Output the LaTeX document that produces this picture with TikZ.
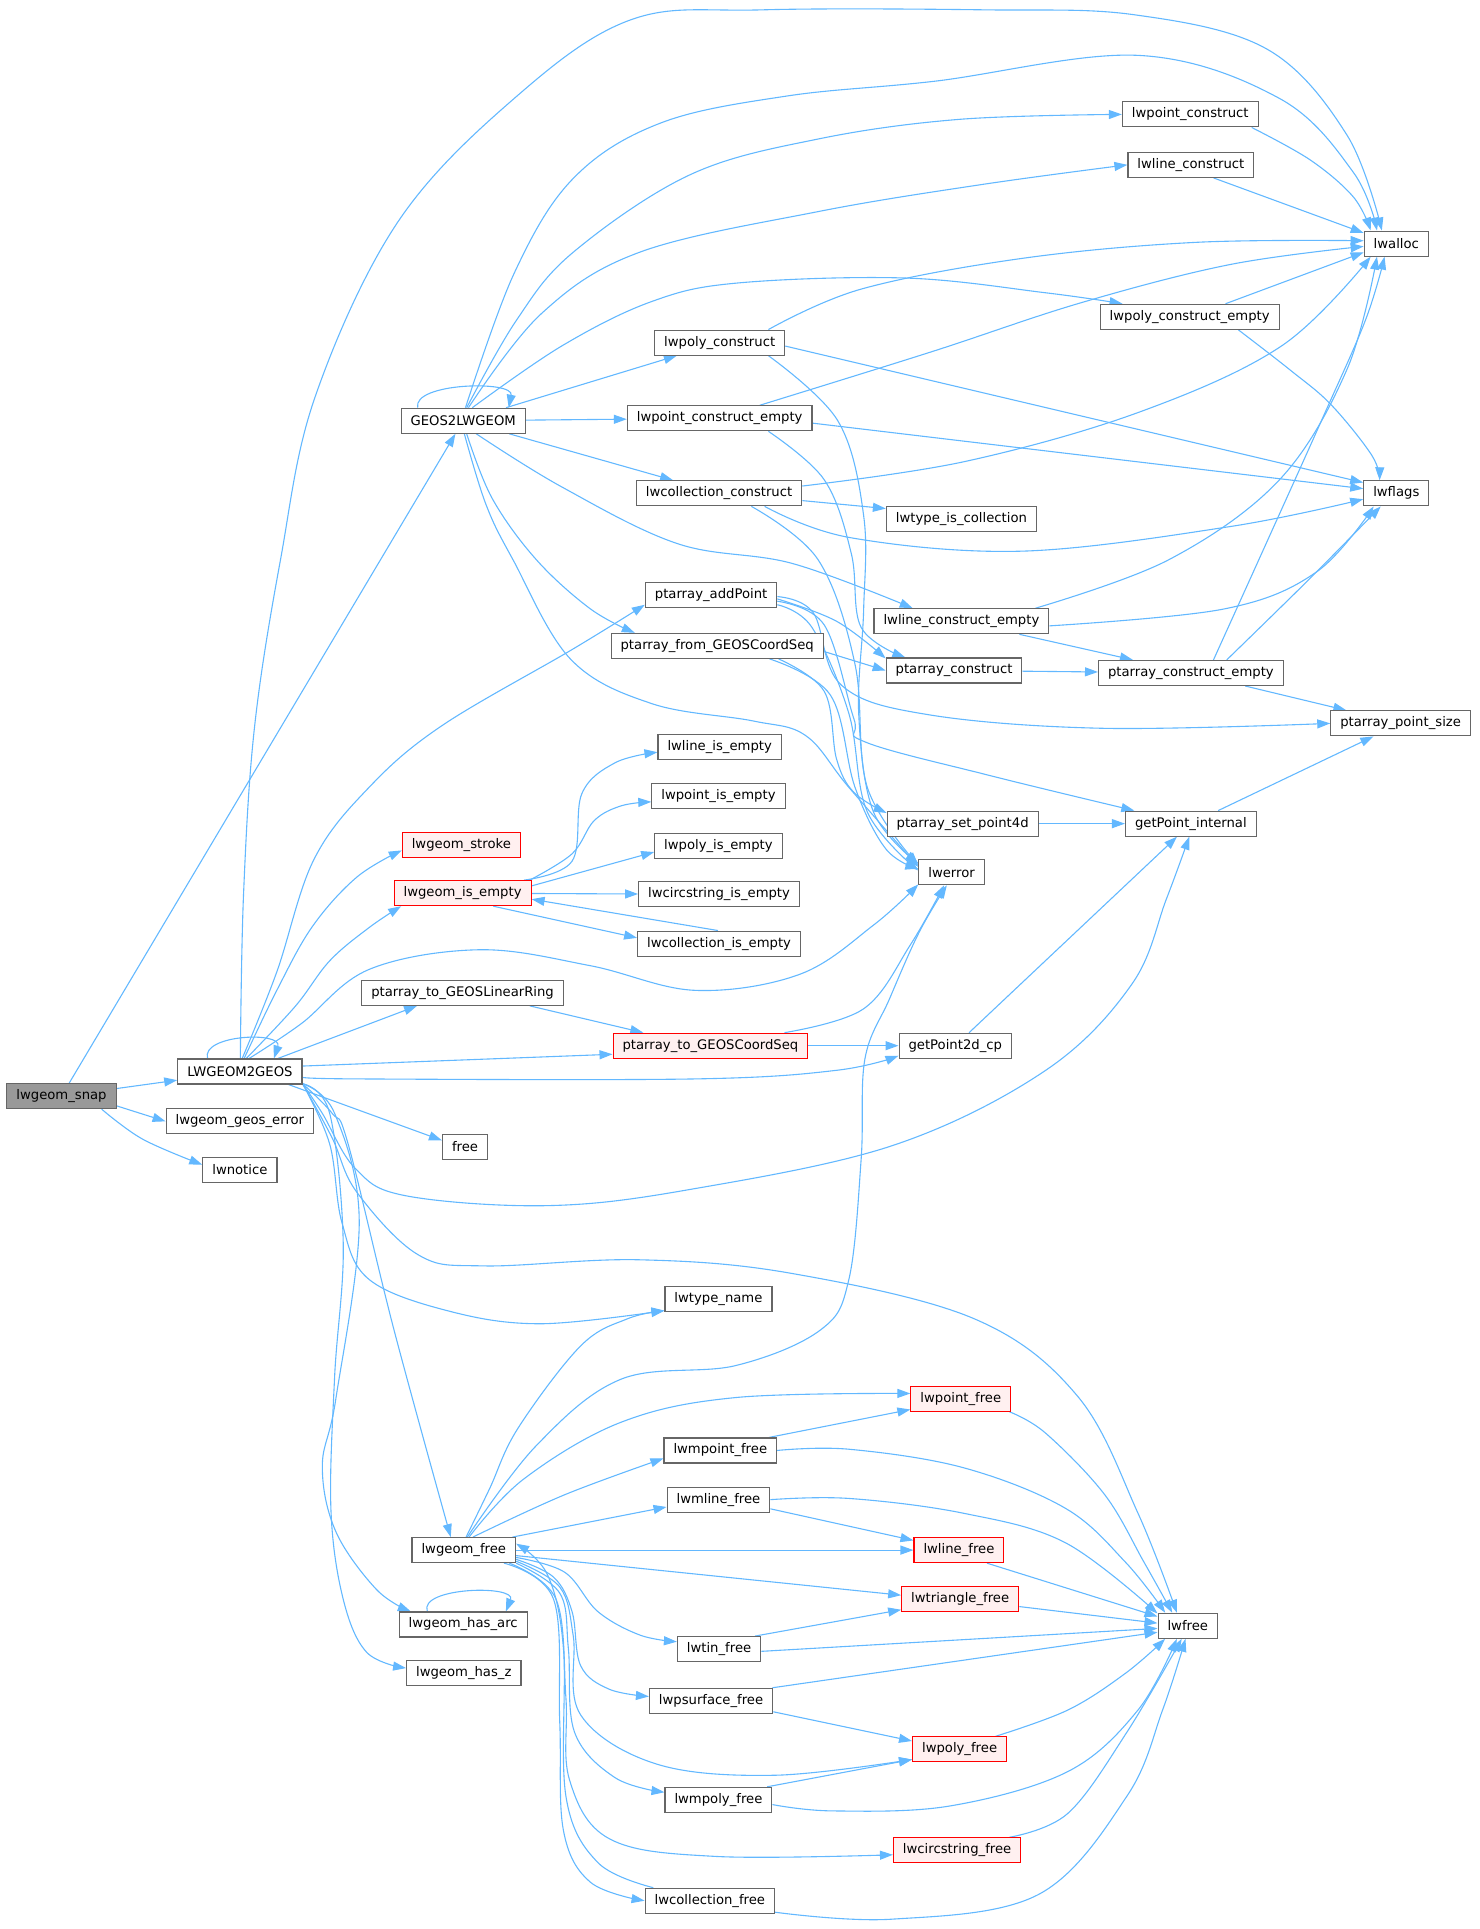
\documentclass[tikz,border=0pt]{standalone}
\usepackage{fontspec}
\newfontfamily\graphfont{DejaVu Sans}
\usetikzlibrary{arrows.meta}
\definecolor{EdgeBlue}{HTML}{63B8FF}
\definecolor{NodeGray}{HTML}{666666}
\definecolor{RootGray}{HTML}{999999}
\definecolor{HotRed}{HTML}{FF0000}
\definecolor{HotFill}{HTML}{FFF0F0}
\pgfdeclarelayer{edges}
\pgfsetlayers{edges,main}

\begin{document}
\begin{tikzpicture}[x=1.2303pt,y=-1.2303pt,
    fn/.style={draw=NodeGray,fill=white,line width=1.1pt,minimum height=25pt,
      inner xsep=9.5pt,inner ysep=0pt,font=\graphfont\fontsize{13.2}{15}\selectfont},
    fnroot/.style={fn,fill=RootGray},
    fnhot/.style={fn,draw=HotRed,fill=HotFill},
    call/.style={draw=EdgeBlue,line width=1.1pt,-{Triangle[length=13pt,width=9pt]}}]
  \useasboundingbox (0,0) rectangle (1203,1568);

  % callers on the left
  \node[fnroot] (snap) at (50,891) {lwgeom\_snap};
  \node[fn] (lw2geos) at (195,871) {LWGEOM2GEOS};
  \node[fn] (geoserr) at (195,911.5) {lwgeom\_geos\_error};
  \node[fn] (notice) at (195,951) {lwnotice};
  \node[fn] (geos2lw) at (376.5,342) {GEOS2LWGEOM};
  \node[fnhot] (stroke) at (375,687) {lwgeom\_stroke};
  \node[fnhot] (isempty) at (376,726) {lwgeom\_is\_empty};
  \node[fn] (linring) at (376,807) {ptarray\_to\_GEOSLinearRing};
  \node[fn] (free) at (378,932) {free};
  \node[fn] (gfree) at (377,1260) {lwgeom\_free};
  \node[fn] (hasarc) at (376.5,1320.5) {lwgeom\_has\_arc};
  \node[fn] (hasz) at (377,1360) {lwgeom\_has\_z};

  % constructors
  \node[fn] (ptcons) at (967.5,93) {lwpoint\_construct};
  \node[fn] (lncons) at (968,134) {lwline\_construct};
  \node[fn] (alloc) at (1135,198) {lwalloc};
  \node[fn] (pgcons) at (585,278.5) {lwpoly\_construct};
  \node[fn] (pgempty) at (967,257.5) {lwpoly\_construct\_empty};
  \node[fn] (ptempty) at (585,340) {lwpoint\_construct\_empty};
  \node[fn] (flags) at (1135,401) {lwflags};
  \node[fn] (colcons) at (584.5,401) {lwcollection\_construct};
  \node[fn] (iscoll) at (781.5,422) {lwtype\_is\_collection};
  \node[fn] (addpt) at (578,484) {ptarray\_addPoint};
  \node[fn] (lnempty) at (781.5,505) {lwline\_construct\_empty};
  \node[fn] (fromseq) at (583,525) {ptarray\_from\_GEOSCoordSeq};
  \node[fn] (pacons) at (775.5,545) {ptarray\_construct};
  \node[fn] (paempty) at (968,547) {ptarray\_construct\_empty};
  \node[fn] (ptsize) at (1138.5,588) {ptarray\_point\_size};

  % emptiness tests and point access
  \node[fn] (lnis) at (585,607) {lwline\_is\_empty};
  \node[fn] (ptis) at (584,647) {lwpoint\_is\_empty};
  \node[fn] (pgis) at (584,688) {lwpoly\_is\_empty};
  \node[fn] (csis) at (584.5,727) {lwcircstring\_is\_empty};
  \node[fn] (colis) at (584.5,767) {lwcollection\_is\_empty};
  \node[fn] (setpt) at (782.5,669.5) {ptarray\_set\_point4d};
  \node[fn] (getint) at (968,669.5) {getPoint\_internal};
  \node[fn] (lwerror) at (773.5,709) {lwerror};
  \node[fnhot] (toseq) at (577.5,850) {ptarray\_to\_GEOSCoordSeq};
  \node[fn] (get2d) at (776.5,850) {getPoint2d\_cp};

  % destructors
  \node[fn] (typename) at (584,1056) {lwtype\_name};
  \node[fnhot] (ptfree) at (781,1137) {lwpoint\_free};
  \node[fn] (mptfree) at (585.5,1179) {lwmpoint\_free};
  \node[fn] (mlnfree) at (584,1219) {lwmline\_free};
  \node[fnhot] (lnfree) at (779.5,1260) {lwline\_free};
  \node[fnhot] (trifree) at (780.5,1300) {lwtriangle\_free};
  \node[fn] (lwfree) at (965.5,1321.5) {lwfree};
  \node[fn] (tinfree) at (584.5,1340.5) {lwtin\_free};
  \node[fn] (psfree) at (578,1382.5) {lwpsurface\_free};
  \node[fnhot] (pgfree) at (780,1422) {lwpoly\_free};
  \node[fn] (mpgfree) at (584,1463) {lwmpoly\_free};
  \node[fnhot] (csfree) at (778,1504) {lwcircstring\_free};
  \node[fn] (colfree) at (577,1545) {lwcollection\_free};

  \begin{pgfonlayer}{edges}
  % lwgeom_snap
  \draw[call] (snap) -- (geos2lw);
  \draw[call] (snap) -- (lw2geos);
  \draw[call] (snap.-10) -- (geoserr.west);
  \draw[call] plot[smooth,tension=.6] coordinates {(snap.-18) (116,926) (notice.172)};

  % LWGEOM2GEOS
  \draw[call] (lw2geos.158) .. controls (163,841) and (230,838) .. (lw2geos.21);
  \draw[call] plot[smooth,tension=.6] coordinates {(lw2geos.88) (198,726) (207,590) (228,455) (256,323) (323,181) (418,80) (513,16) (620,8) (800,8) (922,12) (1030,40) (1095,110) (alloc.138)};
  \draw[call] plot[smooth,tension=.6] coordinates {(lw2geos.80) (225,790) (255,699) (300,640) (359,590) (465,528) (addpt.-172)};
  \draw[call] plot[smooth,tension=.6] coordinates {(lw2geos.72) (225,805) (254,753) (290,713) (stroke.-175)};
  \draw[call] plot[smooth,tension=.6] coordinates {(lw2geos.64) (240,818) (268,781) (300,754) (isempty.-168)};
  \draw[call] plot[smooth,tension=.6] coordinates {(lw2geos.55) (245,832) (300,788) (390,772) (480,785) (565,805) (650,792) (710,752) (lwerror.-160)};
  \draw[call] (lw2geos.19) -- (linring.-164);
  \draw[call] (lw2geos.5) -- (toseq.-175);
  \draw[call] plot[smooth,tension=.6] coordinates {(lw2geos.-5) (292,877) (565,877) (680,870) (get2d.-170)};
  \draw[call] (lw2geos.-15) -- (free.165);
  \draw[call] plot[smooth,tension=.6] coordinates {(lw2geos.-11) (262,905) (289,950) (330,972) (445,980) (560,967) (726,931) (850,870) (920,800) (948,731) (getint.-97)};
  \draw[call] plot[smooth,tension=.6] coordinates {(lw2geos.-11) (270,925) (290,969) (340,1020) (394,1029) (519,1024) (643,1035) (792,1072) (876,1135) (925,1230) (lwfree.130)};
  \draw[call] plot[smooth,tension=.6] coordinates {(lw2geos.-11) (268,930) (278,994) (300,1040) (366,1066) (440,1076) (typename.-168)};
  \draw[call] plot[smooth,tension=.6] coordinates {(lw2geos.-11) (270,905) (283,930) (320,1080) (gfree.135)};
  \draw[call] plot[smooth,tension=.6] coordinates {(lw2geos.-11) (272,905) (292,993) (273,1137) (262,1192) (273,1245) (306,1292) (hasarc.166)};
  \draw[call] plot[smooth,tension=.6] coordinates {(lw2geos.-11) (268,905) (279,1011) (272,1119) (269,1227) (279,1300) (298,1343) (hasz.175)};

  % GEOS2LWGEOM
  \draw[call] (geos2lw.164) .. controls (335,311) and (418,309) .. (geos2lw.16);
  \draw[call] plot[smooth,tension=.6] coordinates {(geos2lw.80) (418,222) (466,145) (537,100) (640,78) (760,66) (925,45) (1040,80) (1100,140) (alloc.146)};
  \draw[call] plot[smooth,tension=.6] coordinates {(geos2lw.75) (420,260) (466,205) (561,142) (665,113) (780,97) (ptcons.west)};
  \draw[call] plot[smooth,tension=.6] coordinates {(geos2lw.68) (440,255) (520,205) (665,172) (798,150) (lncons.west)};
  \draw[call] plot[smooth,tension=.6] coordinates {(geos2lw.55) (457,281) (530,245) (600,230) (736,226) (850,238) (pgempty.169)};
  \draw[call] (geos2lw) -- (pgcons);
  \draw[call] (geos2lw) -- (ptempty);
  \draw[call] (geos2lw) -- (colcons);
  \draw[call] plot[smooth,tension=.6] coordinates {(geos2lw.-45) (457,396) (551,442) (644,458) (lnempty.165)};
  \draw[call] plot[smooth,tension=.6] coordinates {(geos2lw.-75) (400,405) (436,455) (480,495) (fromseq.171)};
  \draw[call] plot[smooth,tension=.6] coordinates {(geos2lw.-85) (395,410) (417,455) (464,536) (530,572) (612,586) (655,598) (690,640) (lwerror.171)};

  % constructors
  \draw[call] plot[smooth,tension=.6] coordinates {(ptcons.-12) (1065,130) (1100,160) (alloc.153)};
  \draw[call] (lncons.-30) -- (alloc.162);
  \draw[call] plot[smooth,tension=.6] coordinates {(pgcons.15) (700,235) (831,210) (972,197) (alloc.175)};
  \draw[call] (pgcons.-3) -- (flags.162);
  \draw[call] plot[smooth,tension=.6] coordinates {(pgcons.-15) (681,342) (702,419) (702,496) (698,580) (710,660) (lwerror.165)};
  \draw[call] plot[smooth,tension=.6] coordinates {(ptempty.18) (757,286) (879,246) (1000,215) (alloc.-175)};
  \draw[call] (ptempty.-3) -- (flags.172);
  \draw[call] plot[smooth,tension=.6] coordinates {(ptempty.-15) (670,390) (692,450) (700,510) (pacons.165)};
  \draw[call] plot[smooth,tension=.6] coordinates {(colcons.5) (785,375) (926,335) (1042,281) (alloc.-153)};
  \draw[call] plot[smooth,tension=.6] coordinates {(colcons.-16) (691,437) (831,448) (1000,428) (flags.-170)};
  \draw[call] (colcons.-5) -- (iscoll.172);
  \draw[call] plot[smooth,tension=.6] coordinates {(colcons.-22) (665,455) (695,540) (705,640) (lwerror.168)};
  \draw[call] (pgempty.20) -- (alloc.-165);
  \draw[call] plot[smooth,tension=.6] coordinates {(pgempty.-15) (1049,301) (1082,329) (1115,370) (flags.142)};
  \draw[call] plot[smooth,tension=.6] coordinates {(lnempty.10) (950,455) (1040,390) (1095,300) (alloc.-146)};
  \draw[call] plot[smooth,tension=.6] coordinates {(lnempty.-3) (995,495) (1070,465) (flags.-150)};
  \draw[call] (lnempty) -- (paempty);
  \draw[call] plot[smooth,tension=.6] coordinates {(paempty.30) (1030,440) (1075,340) (1110,260) (alloc.-132)};
  \draw[call] plot[smooth,tension=.6] coordinates {(paempty.20) (1066,469) (flags.-140)};
  \draw[call] (paempty) -- (ptsize);
  \draw[call] (pacons) -- (paempty);

  % point arrays
  \draw[call] plot[smooth,tension=.6] coordinates {(addpt.-3) (680,505) (pacons.170)};
  \draw[call] plot[smooth,tension=.6] coordinates {(addpt.-1) (661,498) (684,557) (755,581) (897,592) (ptsize.west)};
  \draw[call] plot[smooth,tension=.6] coordinates {(addpt.-5) (670,508) (694,584) (703,603) (803,630) (getint.167)};
  \draw[call] plot[smooth,tension=.6] coordinates {(addpt.-8) (660,510) (690,580) (705,660) (lwerror.177)};
  \draw[call] (fromseq.-3) -- (pacons.west);
  \draw[call] plot[smooth,tension=.6] coordinates {(fromseq.-12) (670,562) (680,617) (694,644) (setpt.172)};
  \draw[call] plot[smooth,tension=.6] coordinates {(fromseq.-14) (675,565) (695,640) (720,690) (lwerror.174)};
  \draw[call] (setpt) -- (getint);
  \draw[call] (getint) -- (ptsize);
  \draw[call] (get2d) -- (getint);

  % lwgeom_is_empty
  \draw[call] plot[smooth,tension=.6] coordinates {(isempty.12) (465,700) (473,645) (500,620) (lnis.-175)};
  \draw[call] plot[smooth,tension=.6] coordinates {(isempty.11) (465,694) (483,667) (505,655) (ptis.-175)};
  \draw[call] (isempty.6) -- (pgis.-175);
  \draw[call] (isempty) -- (csis);
  \draw[call] (isempty.-23) -- (colis.176);
  \draw[call] (colis.95) -- (isempty.-5);

  % coordinate sequences
  \draw[call] (linring.-11) -- (toseq.169);
  \draw[call] plot[smooth,tension=.6] coordinates {(toseq.10) (702,820) (740,768) (lwerror.-120)};
  \draw[call] (toseq) -- (get2d);

  % lwgeom_free
  \draw[call] plot[smooth,tension=.6] coordinates {(gfree.80) (398,1210) (421,1161) (472,1094) (510,1072) (typename.-168)};
  \draw[call] plot[smooth,tension=.6] coordinates {(gfree.75) (436,1175) (505,1121) (598,1110) (667,1081) (690,1040) (700,942) (703,861) (723,812) (747,758) (lwerror.-110)};
  \draw[call] plot[smooth,tension=.6] coordinates {(gfree.68) (426,1202) (505,1156) (598,1136) (ptfree.174)};
  \draw[call] plot[smooth,tension=.6] coordinates {(gfree.55) (459,1215) (mptfree.-172)};
  \draw[call] (gfree.15) -- (mlnfree.-172);
  \draw[call] (gfree) -- (lnfree);
  \draw[call] (gfree.-6) -- (trifree.176);
  \draw[call] plot[smooth,tension=.6] coordinates {(gfree.-8) (459,1278) (486,1310) (520,1329) (tinfree.170)};
  \draw[call] plot[smooth,tension=.6] coordinates {(gfree.-10) (450,1282) (465,1310) (472,1354) (495,1373) (psfree.176)};
  \draw[call] plot[smooth,tension=.6] coordinates {(gfree.-12) (455,1290) (466,1330) (472,1394) (534,1434) (630,1443) (pgfree.-168)};
  \draw[call] plot[smooth,tension=.6] coordinates {(gfree.-14) (455,1295) (462,1340) (467,1408) (500,1445) (mpgfree.172)};
  \draw[call] plot[smooth,tension=.6] coordinates {(gfree.-16) (452,1300) (460,1380) (463,1447) (496,1495) (582,1509) (csfree.-176)};
  \draw[call] plot[smooth,tension=.6] coordinates {(gfree.-18) (450,1300) (455,1400) (458,1488) (480,1530) (colfree.west)};
  \draw[call] plot[smooth,tension=.6] coordinates {(colfree.167) (486,1514) (460,1460) (458,1340) (445,1280) (gfree.7)};
  \draw[call] (hasarc.160) .. controls (340,1290) and (420,1288) .. (hasarc.17);

  % free functions
  \draw[call] (mptfree.15) -- (ptfree.-168);
  \draw[call] (mlnfree.-10) -- (lnfree.168);
  \draw[call] (tinfree.20) -- (trifree.-170);
  \draw[call] (psfree.-10) -- (pgfree.170);
  \draw[call] (mpgfree.15) -- (pgfree.-168);
  \draw[call] plot[smooth,tension=.6] coordinates {(ptfree.-15) (850,1165) (898,1215) (930,1270) (lwfree.140)};
  \draw[call] plot[smooth,tension=.6] coordinates {(mptfree.east) (690,1178) (783,1193) (866,1226) (915,1270) (lwfree.150)};
  \draw[call] plot[smooth,tension=.6] coordinates {(mlnfree.east) (690,1218) (783,1230) (866,1254) (lwfree.158)};
  \draw[call] (lnfree.-25) -- (lwfree.163);
  \draw[call] (trifree.-7) -- (lwfree.175);
  \draw[call] (tinfree.-3) -- (lwfree.-175);
  \draw[call] (psfree.12) -- (lwfree.-168);
  \draw[call] plot[smooth,tension=.6] coordinates {(pgfree.20) (868,1390) (915,1360) (lwfree.-150)};
  \draw[call] plot[smooth,tension=.6] coordinates {(mpgfree.-5) (677,1472) (772,1468) (868,1440) (925,1390) (lwfree.-130)};
  \draw[call] plot[smooth,tension=.6] coordinates {(csfree.14) (868,1474) (916,1408) (lwfree.-115)};
  \draw[call] plot[smooth,tension=.6] coordinates {(colfree.-10) (725,1560) (844,1540) (916,1460) (945,1390) (lwfree.-100)};
  \end{pgfonlayer}
\end{tikzpicture}
\end{document}
